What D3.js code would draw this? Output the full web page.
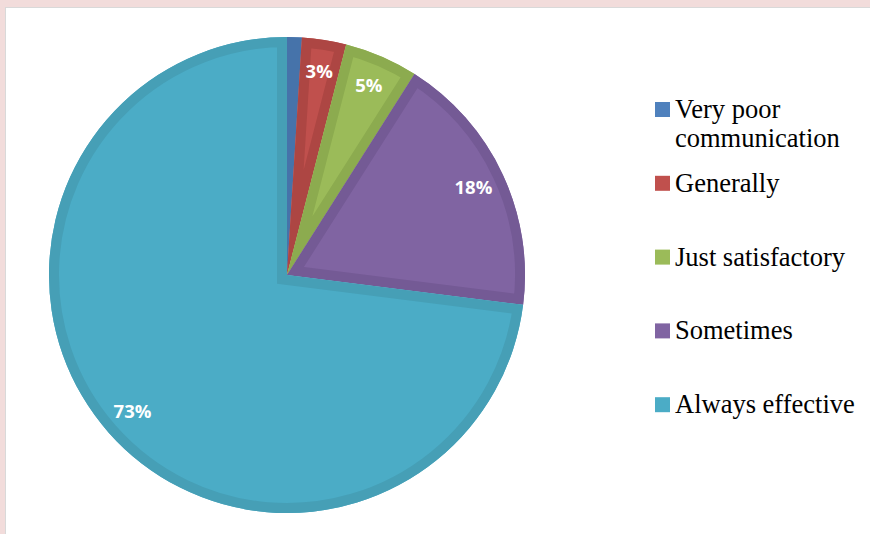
<!DOCTYPE html>
<html>
<head>
<meta charset="utf-8">
<script src="https://cdn.jsdelivr.net/npm/d3@7"></script>
<style>
  html, body { margin:0; padding:0; background:#f2dcdb; }
  svg { display:block; }
</style>
</head>
<body>
<div id="chart"></div>
<script>
const categories = ["Very poor communication", "Generally", "Just satisfactory", "Sometimes", "Always effective"];
const values = [1, 3, 5, 18, 73];
const fills = ["#4f81bd", "#c0504d", "#9bbb59", "#8064a2", "#4bacc6"];
const edges = ["#4673aa", "#ad4643", "#8cab4f", "#745a95", "#469fb6"];
const legendLines = [["Very poor", "communication"], ["Generally"], ["Just satisfactory"], ["Sometimes"], ["Always effective"]];

const width = 870, height = 534;
const cx = 287, cy = 275, r = 238;

const svg = d3.select("#chart").append("svg")
  .attr("width", width).attr("height", height);

// pink frame + white plot area
svg.append("rect").attr("width", width).attr("height", height).attr("fill", "#f2dcdb");
svg.append("rect").attr("x", 5.5).attr("y", 7.5).attr("width", width).attr("height", height)
  .attr("fill", "#fff").attr("stroke", "#d9d9d9");

const pie = d3.pie().sort(null).value(d => d)(values);
const arc = d3.arc().innerRadius(0).outerRadius(r);
const labelArc = d3.arc().innerRadius(206).outerRadius(206);

const g = svg.append("g").attr("transform", `translate(${cx},${cy})`);
const defs = svg.append("defs");

pie.forEach((p, i) => {
  defs.append("clipPath").attr("id", "clip" + i)
    .append("path").attr("d", arc(p));
});

const slices = g.selectAll("g.slice").data(pie).join("g").attr("class", "slice");
slices.append("path")
  .attr("d", arc)
  .attr("fill", (d, i) => fills[i]);
// darker inner rim, like the bevel of the original
slices.append("path")
  .attr("d", arc)
  .attr("fill", "none")
  .attr("stroke", (d, i) => edges[i])
  .attr("stroke-width", 20)
  .attr("stroke-linejoin", "miter")
  .attr("clip-path", (d, i) => `url(#clip${i})`);

g.selectAll("text.pct").data(pie.filter(d => d.data >= 2)).join("text")
  .attr("class", "pct")
  .attr("transform", d => `translate(${labelArc.centroid(d)})`)
  .attr("text-anchor", "middle")
  .attr("dy", "0.35em")
  .attr("fill", "#fff")
  .attr("font-family", "'Open Sans', sans-serif")
  .attr("font-weight", "bold")
  .attr("font-size", 18.5)
  .text(d => d.data + "%");

// legend
const legend = svg.append("g").attr("transform", "translate(655,118)");
const item = legend.selectAll("g").data(categories).join("g")
  .attr("transform", (d, i) => `translate(0,${i * 73.8})`);
item.append("rect")
  .attr("x", 0).attr("y", -16).attr("width", 15).attr("height", 15)
  .attr("fill", (d, i) => fills[i]);
item.append("text")
  .attr("x", 20)
  .attr("font-family", "'Liberation Serif', 'Times New Roman', serif")
  .attr("font-size", 26.5)
  .attr("fill", "#000")
  .selectAll("tspan").data((d, i) => legendLines[i]).join("tspan")
  .attr("x", 20)
  .attr("dy", (d, j) => j === 0 ? 0 : 29)
  .text(d => d);
</script>
</body>
</html>
